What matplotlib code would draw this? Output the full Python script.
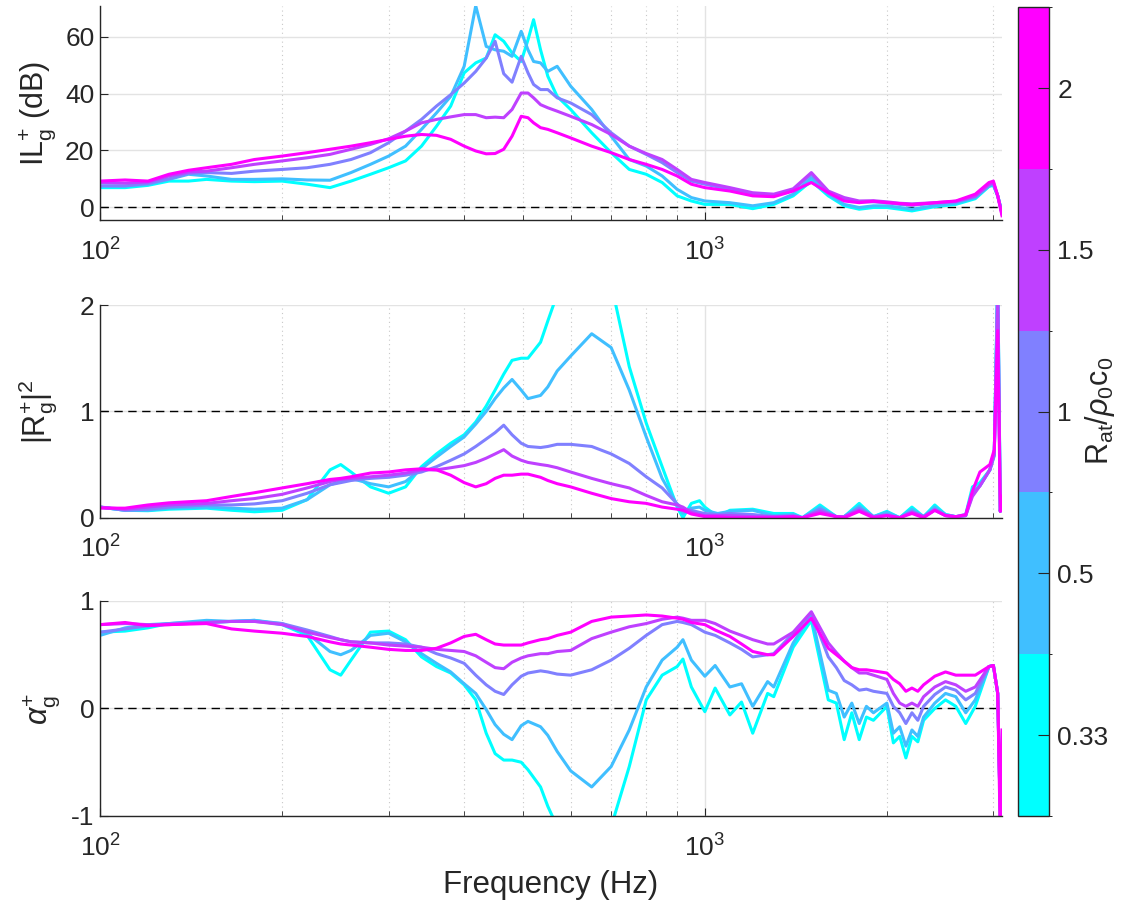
import numpy as np
import matplotlib
matplotlib.use("Agg")
import matplotlib.pyplot as plt
from matplotlib.colors import ListedColormap, BoundaryNorm
from matplotlib.ticker import LogLocator, NullFormatter
import matplotlib.cm as cm

plt.rcParams['font.family'] = ['Liberation Sans', 'DejaVu Sans']
plt.rcParams['mathtext.fontset'] = 'custom'
plt.rcParams['mathtext.rm'] = 'Liberation Sans'
plt.rcParams['mathtext.it'] = 'Liberation Sans:italic'
plt.rcParams['axes.unicode_minus'] = False

# R_at / rho0 c0 values (one curve each), colours from the "cool" map
ratio_labels = ['0.33', '0.5', '1', '1.5', '2']
ratio_colors = ['#00ffff', '#40bfff', '#8080ff', '#bf40ff', '#ff00ff']

# ---- insertion loss IL_g^+ (dB)
f_il = [100, 110, 120, 130, 140, 150, 165, 180, 200, 220, 240, 260, 280, 300, 320, 340,
        360, 380, 400, 418, 435, 450, 465, 480, 497, 510, 521, 535, 550, 570, 600, 650,
        700, 750, 800, 850, 900, 950, 1000, 1100, 1200, 1300, 1400, 1500, 1600, 1700,
        1800, 1900, 2000, 2100, 2200, 2400, 2600, 2800, 2950, 3000, 3050, 3100]
il_033 = [6.9, 6.9, 7.7, 9.2, 9.2, 9.8, 9.2, 9.0, 9.2, 8.1, 6.9, 9.2, 11.6, 13.9, 16.3, 21.5,
          28.5, 35.6, 47.3, 50.8, 52.5, 60.7, 58.4, 54.3, 51.3, 58.9, 66.0, 55.4, 46.1, 39.0, 34.4, 26.2,
          19.2, 13.3, 11.6, 8.7, 4.0, 2.2, 1.0, 1.0, -0.5, 1.0, 4.0, 9.2, 4.0, 0.5,
          -0.7, -0.1, -0.1, -0.7, -1.3, 0.2, 1.0, 3.0, 7.3, 7.7, 4.0, -2.0]
il_05 = [7.5, 7.5, 8.0, 9.8, 11.6, 11.0, 9.8, 9.8, 10.0, 9.6, 9.5, 12.2, 15.1, 18.0, 21.5, 27.4,
         33.2, 39.0, 49.6, 70.9, 56.6, 55.4, 54.9, 53.1, 61.9, 55.4, 51.3, 50.8, 47.8, 49.6, 42.6, 34.4,
         25.0, 16.8, 14.5, 11.0, 6.3, 3.4, 2.2, 1.6, 0.5, 1.6, 4.6, 10.4, 4.6, 1.0,
         -0.1, 0.5, 0.5, -0.1, -0.7, 0.5, 1.4, 3.4, 7.5, 8.0, 4.0, -2.0]
il_1 = [7.5, 7.5, 8.4, 10.0, 11.9, 12.2, 11.9, 12.7, 13.3, 13.9, 15.1, 16.8, 19.2, 22.7, 26.8, 30.9,
        35.6, 39.6, 43.7, 47.8, 52.5, 58.4, 47.0, 44.0, 53.1, 47.3, 43.2, 41.4, 41.4, 38.5, 36.7, 32.6,
        26.2, 21.5, 18.6, 15.7, 12.2, 9.2, 8.1, 6.3, 4.6, 4.2, 6.1, 11.6, 5.4, 2.8,
        1.9, 1.9, 1.6, 1.0, 0.7, 1.4, 1.9, 3.7, 7.7, 8.4, 4.0, -2.0]
il_15 = [8.7, 8.5, 8.9, 11.0, 12.4, 12.7, 13.9, 15.1, 16.3, 17.4, 18.6, 20.4, 22.1, 24.1, 26.8, 29.7,
         30.9, 31.8, 32.6, 32.6, 31.5, 31.7, 31.5, 34.4, 40.2, 40.2, 38.5, 36.1, 35.0, 33.8, 32.0, 29.1,
         25.6, 21.5, 18.9, 16.8, 13.3, 9.8, 8.7, 6.9, 5.1, 4.6, 6.5, 12.2, 5.7, 3.4,
         2.2, 2.3, 1.9, 1.4, 1.2, 1.6, 2.1, 4.0, 8.1, 8.7, 4.0, -2.5]
il_2 = [9.2, 9.6, 9.2, 11.6, 13.0, 13.9, 15.1, 16.8, 18.0, 19.2, 20.4, 21.5, 22.7, 23.9, 25.0, 25.6,
        25.3, 23.9, 21.5, 19.8, 18.8, 18.9, 20.4, 25.0, 32.0, 31.5, 29.7, 28.0, 27.4, 26.2, 24.4, 21.5,
        19.2, 16.8, 15.1, 13.3, 11.0, 8.1, 6.9, 5.7, 4.0, 3.7, 5.7, 8.7, 5.1, 2.2,
        1.6, 2.1, 1.6, 1.3, 0.9, 1.6, 2.2, 4.6, 8.7, 9.2, 4.0, -3.0]

# ---- reflection |R_g^+|^2
f_r = [100, 110, 120, 130, 150, 165, 180, 200, 220, 240, 250, 260, 280, 300, 320, 340,
       360, 380, 400, 418, 435, 450, 465, 480, 497, 510, 535, 550, 570, 600, 650, 700,
       750, 800, 850, 900, 920, 950, 980, 1000, 1050, 1100, 1200, 1300, 1400, 1450, 1550,
       1650, 1700, 1800, 1900, 2000, 2100, 2200, 2300, 2400, 2500, 2600, 2700, 2770, 2850,
       2960, 3010, 3050, 3080, 3100]
r_033 = [0.10, 0.07, 0.066, 0.08, 0.09, 0.07, 0.056, 0.07, 0.17, 0.45, 0.50, 0.43, 0.29, 0.23, 0.29, 0.48,
         0.60, 0.70, 0.78, 0.90, 1.05, 1.20, 1.35, 1.48, 1.50, 1.50, 1.65, 1.85, 2.10, 2.60, 2.90, 2.20,
         1.42, 0.89, 0.48, 0.10, 0.0, 0.135, 0.16, 0.10, 0.01, 0.07, 0.08, 0.04, 0.04, 0.0, 0.12,
         0.01, 0.01, 0.135, 0.01, 0.06, 0.0, 0.10, 0.01, 0.12, 0.03, 0.01, 0.03, 0.29, 0.33,
         0.45, 0.60, 2.30, 0.06, 0.20]
r_05 = [0.10, 0.07, 0.07, 0.09, 0.10, 0.09, 0.08, 0.09, 0.17, 0.31, 0.34, 0.37, 0.32, 0.29, 0.34, 0.46,
        0.57, 0.67, 0.76, 0.88, 1.00, 1.12, 1.22, 1.30, 1.20, 1.12, 1.15, 1.23, 1.38, 1.52, 1.73, 1.60,
        1.20, 0.76, 0.37, 0.12, 0.04, 0.09, 0.10, 0.07, 0.04, 0.06, 0.07, 0.02, 0.03, 0.0, 0.10,
        0.01, 0.01, 0.11, 0.01, 0.05, 0.0, 0.08, 0.01, 0.10, 0.03, 0.01, 0.02, 0.25, 0.30,
        0.45, 0.58, 2.30, 0.06, 0.20]
r_1 = [0.10, 0.07, 0.08, 0.10, 0.12, 0.12, 0.13, 0.16, 0.23, 0.31, 0.33, 0.35, 0.37, 0.38, 0.40, 0.43,
       0.48, 0.54, 0.60, 0.67, 0.74, 0.80, 0.87, 0.78, 0.70, 0.67, 0.66, 0.67, 0.69, 0.69, 0.67, 0.60,
       0.51, 0.385, 0.28, 0.13, 0.08, 0.07, 0.05, 0.04, 0.03, 0.04, 0.03, 0.01, 0.02, 0.0, 0.08,
       0.01, 0.01, 0.09, 0.01, 0.03, 0.0, 0.06, 0.01, 0.08, 0.02, 0.01, 0.02, 0.22, 0.30,
       0.45, 0.60, 2.20, 0.06, 0.20]
r_15 = [0.10, 0.08, 0.10, 0.12, 0.135, 0.16, 0.18, 0.22, 0.28, 0.34, 0.36, 0.37, 0.385, 0.40, 0.42, 0.45,
        0.45, 0.47, 0.49, 0.52, 0.56, 0.60, 0.64, 0.58, 0.54, 0.52, 0.50, 0.49, 0.47, 0.43, 0.37, 0.32,
        0.28, 0.21, 0.15, 0.12, 0.10, 0.05, 0.03, 0.02, 0.02, 0.02, 0.01, 0.01, 0.01, 0.0, 0.06,
        0.01, 0.01, 0.07, 0.01, 0.02, 0.0, 0.05, 0.01, 0.07, 0.02, 0.01, 0.02, 0.20, 0.30,
        0.45, 0.60, 2.10, 0.06, 0.20]
r_2 = [0.09, 0.09, 0.12, 0.14, 0.16, 0.20, 0.235, 0.28, 0.32, 0.36, 0.37, 0.385, 0.42, 0.43, 0.45, 0.46,
       0.45, 0.40, 0.33, 0.29, 0.32, 0.37, 0.40, 0.40, 0.41, 0.41, 0.38, 0.35, 0.32, 0.29, 0.23, 0.18,
       0.15, 0.135, 0.10, 0.08, 0.07, 0.035, 0.02, 0.01, 0.01, 0.0, 0.0, 0.0, 0.01, 0.0, 0.04,
       0.01, 0.0, 0.06, 0.0, 0.02, 0.0, 0.04, 0.0, 0.07, 0.02, 0.01, 0.03, 0.25, 0.43,
       0.50, 0.64, 1.76, 0.06, 0.20]

# ---- absorption alpha_g^+
f_a = [100, 110, 120, 130, 150, 165, 180, 200, 220, 240, 250, 260, 280, 300, 320, 340,
       360, 380, 400, 418, 435, 450, 465, 480, 497, 510, 535, 550, 570, 600, 650, 700,
       750, 800, 850, 900, 920, 950, 1000, 1040, 1100, 1150, 1200, 1270, 1300, 1400, 1500,
       1600, 1650, 1700, 1750, 1800, 1850, 1900, 2000, 2050, 2100, 2150, 2200, 2250, 2300,
       2400, 2500, 2600, 2700, 2800, 2950, 3000, 3050, 3080, 3100]
a_033 = [0.71, 0.72, 0.75, 0.79, 0.80, 0.81, 0.82, 0.78, 0.68, 0.36, 0.31, 0.45, 0.71, 0.72, 0.64, 0.48,
         0.39, 0.33, 0.22, 0.08, -0.23, -0.42, -0.48, -0.48, -0.50, -0.57, -0.73, -0.91, -1.10, -1.50, -1.80, -1.10,
         -0.54, 0.08, 0.31, 0.39, 0.46, 0.20, -0.03, 0.19, -0.06, 0.06, -0.23, 0.14, 0.11, 0.57, 0.82,
         0.08, 0.05, -0.29, -0.04, -0.29, -0.08, -0.11, 0.02, -0.32, -0.26, -0.46, -0.26, -0.31, -0.11,
         0.0, 0.08, 0.02, -0.14, 0.02, 0.39, 0.40, 0.14, -1.0, -1.1]
a_05 = [0.68, 0.75, 0.78, 0.79, 0.82, 0.81, 0.82, 0.79, 0.70, 0.53, 0.50, 0.54, 0.68, 0.70, 0.62, 0.51,
        0.42, 0.34, 0.23, 0.14, -0.01, -0.15, -0.24, -0.29, -0.16, -0.12, -0.17, -0.25, -0.40, -0.58, -0.73, -0.54,
        -0.20, 0.20, 0.45, 0.57, 0.64, 0.45, 0.30, 0.40, 0.20, 0.23, 0.02, 0.25, 0.20, 0.61, 0.87,
        0.17, 0.14, -0.08, 0.05, -0.14, 0.02, -0.04, 0.05, -0.23, -0.17, -0.35, -0.20, -0.26, -0.08,
        0.05, 0.14, 0.11, -0.04, 0.08, 0.39, 0.40, 0.14, -1.0, -1.1]
a_1 = [0.71, 0.74, 0.77, 0.79, 0.80, 0.81, 0.81, 0.79, 0.73, 0.67, 0.64, 0.62, 0.61, 0.61, 0.60, 0.57,
       0.51, 0.47, 0.42, 0.31, 0.22, 0.16, 0.13, 0.22, 0.30, 0.33, 0.35, 0.34, 0.32, 0.31, 0.36, 0.45,
       0.56, 0.68, 0.78, 0.81, 0.80, 0.78, 0.71, 0.68, 0.61, 0.55, 0.48, 0.50, 0.51, 0.70, 0.89,
       0.48, 0.38, 0.26, 0.22, 0.17, 0.18, 0.16, 0.14, 0.02, -0.04, -0.14, -0.04, -0.11, 0.02,
       0.13, 0.20, 0.17, 0.08, 0.14, 0.39, 0.40, 0.14, -1.0, -1.1]
a_15 = [0.78, 0.79, 0.78, 0.78, 0.80, 0.81, 0.81, 0.78, 0.71, 0.66, 0.64, 0.62, 0.61, 0.59, 0.58, 0.57,
        0.55, 0.54, 0.53, 0.49, 0.43, 0.38, 0.37, 0.43, 0.47, 0.49, 0.51, 0.51, 0.53, 0.54, 0.65, 0.71,
        0.76, 0.79, 0.83, 0.85, 0.84, 0.82, 0.82, 0.79, 0.72, 0.68, 0.64, 0.60, 0.60, 0.71, 0.90,
        0.61, 0.52, 0.44, 0.38, 0.33, 0.33, 0.31, 0.27, 0.14, 0.05, 0.02, 0.05, 0.02, 0.11,
        0.20, 0.25, 0.22, 0.16, 0.20, 0.39, 0.40, 0.14, -1.0, -1.1]
a_2 = [0.78, 0.80, 0.77, 0.78, 0.79, 0.74, 0.72, 0.70, 0.67, 0.62, 0.60, 0.59, 0.57, 0.55, 0.54, 0.54,
       0.56, 0.61, 0.67, 0.69, 0.64, 0.60, 0.59, 0.59, 0.59, 0.61, 0.64, 0.65, 0.68, 0.71, 0.81, 0.85,
       0.86, 0.87, 0.86, 0.84, 0.83, 0.80, 0.78, 0.73, 0.67, 0.60, 0.53, 0.50, 0.50, 0.67, 0.84,
       0.56, 0.50, 0.44, 0.38, 0.36, 0.36, 0.35, 0.33, 0.27, 0.23, 0.16, 0.19, 0.16, 0.22,
       0.30, 0.34, 0.31, 0.31, 0.31, 0.39, 0.40, 0.14, -1.2, -0.2]

panels = [
    (f_il, [il_033, il_05, il_1, il_15, il_2], 0.0, (-4.5, 70.8), [0, 20, 40, 60],
     r'IL$_{\mathrm{g}}^{+}$ (dB)', -0.047),
    (f_r, [r_033, r_05, r_1, r_15, r_2], 1.0, (0, 2), [0, 1, 2],
     r'|R$_{\mathrm{g}}^{+}$|$^{2}$', -0.045),
    (f_a, [a_033, a_05, a_1, a_15, a_2], 0.0, (-1, 1), [-1, 0, 1],
     r'$\alpha_{\mathrm{g}}^{+}$', -0.042),
]
axes_rects = [[0.0887, 0.7598, 0.7996, 0.2336],
              [0.0887, 0.4348, 0.7996, 0.2322],
              [0.0887, 0.1092, 0.7996, 0.2347]]

ink = '#262626'
fig = plt.figure(figsize=(11.28, 9.16), dpi=100)

for rect, (freq, curves, ref, ylim, yticks, ylabel, lab_x) in zip(axes_rects, panels):
    ax = fig.add_axes(rect)
    for vals, col in zip(curves, ratio_colors):
        ax.plot(freq, vals, color=col, lw=2.2, solid_joinstyle='round')
    ax.axhline(ref, color='k', lw=1.0, ls=(0, (6, 4)), zorder=1.5)
    ax.set_xscale('log')
    ax.set_xlim(100, 3100)
    ax.set_ylim(*ylim)
    ax.set_yticks(yticks)
    ax.set_xticks([100, 1000])
    ax.xaxis.set_minor_locator(LogLocator(base=10, subs=np.arange(2, 10)))
    ax.xaxis.set_minor_formatter(NullFormatter())
    ax.grid(True, which='major', color='#e3e3e3', lw=1.0)
    ax.grid(True, which='minor', axis='x', color='#c8c8c8', ls=(0, (1, 3)), lw=0.8)
    ax.set_axisbelow(True)
    for s in ['top', 'right']:
        ax.spines[s].set_visible(False)
    for s in ['left', 'bottom']:
        ax.spines[s].set_color(ink)
        ax.spines[s].set_linewidth(1.0)
    ax.tick_params(which='major', direction='in', length=6, color=ink, labelcolor=ink,
                   labelsize=19)
    ax.tick_params(axis='x', which='major', pad=13)
    ax.tick_params(axis='y', which='major', pad=4)
    ax.tick_params(which='minor', direction='in', length=3.5, color=ink)
    ax.set_ylabel(ylabel, fontsize=22, color=ink)
    ax.yaxis.set_label_coords(lab_x, 0.5)

ax.set_xlabel('Frequency (Hz)', fontsize=22.5, color=ink, labelpad=6)

# discrete colour bar
cmap = ListedColormap(ratio_colors)
norm = BoundaryNorm(np.arange(len(ratio_colors) + 1), cmap.N)
cax = fig.add_axes([0.9025, 0.1092, 0.0275, 0.883])
cb = fig.colorbar(cm.ScalarMappable(norm=norm, cmap=cmap), cax=cax,
                  ticks=np.arange(len(ratio_colors)) + 0.5)
cb.set_ticklabels(ratio_labels)
cb.ax.tick_params(direction='in', length=8, color=ink, labelcolor=ink, labelsize=19, pad=6)
cb.outline.set_edgecolor(ink)
cb.outline.set_linewidth(1.0)
fig.text(1100 / 1128, 1 - 411 / 916, r'R$_{\mathrm{at}}$/$\rho_0$c$_0$', fontsize=22,
         color=ink, rotation=90, ha='center', va='center')

fig.savefig('out.png', dpi=100)
